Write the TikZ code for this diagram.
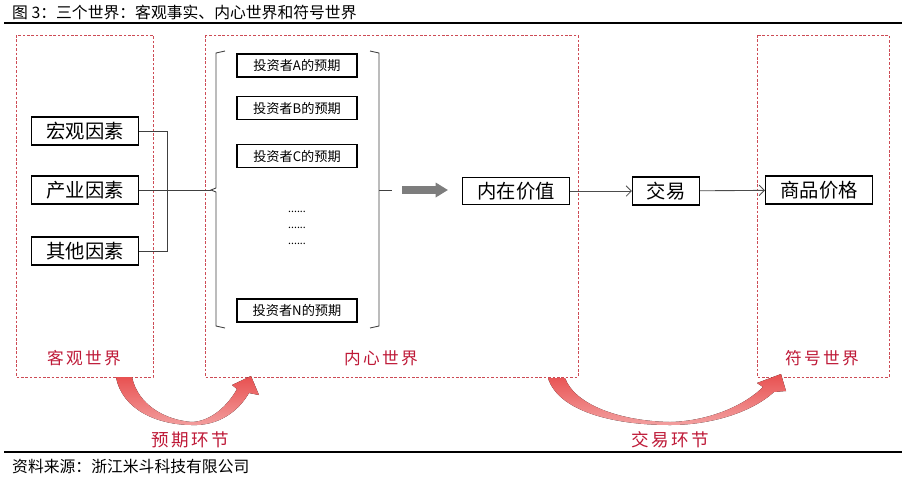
\documentclass[tikz,border=0pt]{standalone}
\usepackage{fontspec}
\setmainfont{Noto Sans CJK SC}
\newfontfamily\lblfont[LetterSpace=14]{Noto Sans CJK SC}
\usetikzlibrary{arrows.meta}

\definecolor{framered}{RGB}{205,75,85}
\definecolor{lblred}{RGB}{190,25,55}
\definecolor{arrowred}{RGB}{232,80,80}
\definecolor{bigarrow}{RGB}{125,125,125}

\begin{document}
\begin{tikzpicture}[x=0.02cm, y=-0.02cm,
    box/.style={draw, line width=0.6pt, minimum width=2.14cm, minimum height=0.56cm, inner sep=0pt, font=\fontsize{11}{13}\selectfont},
    invbox/.style={draw, line width=0.6pt, minimum width=2.4cm, minimum height=0.46cm, inner sep=0pt, font=\fontsize{7.5}{9}\selectfont},
    frame/.style={draw=framered, line width=0.5pt, dash pattern=on 1.5pt off 1pt},
    worldlbl/.style={text=lblred, font=\lblfont\fontsize{9.5}{11}\selectfont},
    conn/.style={draw=black!75, line width=0.5pt},
    link/.style={draw=black!70, line width=0.5pt, -{Straight Barb[length=3pt,width=6pt]}},
    redarrow/.style={top color=arrowred, bottom color=arrowred!55!white, draw=none}]
    \useasboundingbox (0,0) rectangle (906,478);

    % title and source
    \node[anchor=west, font=\fontsize{9}{11}\selectfont] (title) at (6,12) {图 3：三个世界：客观事实、内心世界和符号世界};
    \draw[line width=0.8pt] (4,23) -- (902,23);
    \draw[line width=0.8pt] (4,452) -- (902,452);
    \node[anchor=west, font=\fontsize{9}{11}\selectfont] (src) at (6,466) {资料来源：浙江米斗科技有限公司};

    % the three worlds
    \draw[frame] (16,35) rectangle (153,377);
    \draw[frame] (205,35) rectangle (578,377);
    \draw[frame] (757,35) rectangle (889,377);
    \node[worldlbl] (kgsj) at (84,358) {客观世界};
    \node[worldlbl] (nxsj) at (381,358) {内心世界};
    \node[worldlbl] (fhsj) at (822,358) {符号世界};

    % objective factors
    \node[box] (hgys) at (85,131) {宏观因素};
    \node[box] (cyys) at (85,190) {产业因素};
    \node[box] (qtys) at (85,251) {其他因素};
    \coordinate (jn) at (167,190);
    \coordinate (brkL) at (211,190);
    \draw[conn] (hgys.east) -| (jn);
    \draw[conn] (qtys.east) -| (jn);
    \draw[conn] (cyys.east) -- (brkL);

    % expectations of investors
    \node[invbox] (tzA) at (297,65.5) {投资者A的预期};
    \node[invbox] (tzB) at (297,108) {投资者B的预期};
    \node[invbox] (tzC) at (297,156) {投资者C的预期};
    \node[invbox] (tzN) at (297,310.5) {投资者N的预期};
    \node[font=\fontsize{6}{6}\selectfont, inner sep=0pt] (dots1) at (297,212) {......};
    \node[font=\fontsize{6}{6}\selectfont, inner sep=0pt] (dots2) at (297,228) {......};
    \node[font=\fontsize{6}{6}\selectfont, inner sep=0pt] (dots3) at (297,244) {......};

    % brackets
    \draw[conn] (225,51) -- (216,53) -- (216,188) -- (brkL) -- (216,192) -- (216,326) -- (225,328);
    \coordinate (brkR) at (379,190);
    \coordinate (tickR) at (392,190);
    \draw[conn] (370,51) -- (379,53) -- (brkR) -- (379,326) -- (370,328);
    \draw[conn] (brkR) -- (tickR);

    % big gray arrow
    \coordinate (gA) at (402,190);
    \coordinate (gB) at (448,190);
    \draw[bigarrow, line width=4pt, -{Triangle[length=7pt,width=8pt]}] (gA) -- (gB);

    % value -> trade -> price
    \node[box, minimum width=2.14cm, minimum height=0.54cm] (nzjz) at (516,191) {内在价值};
    \node[box, minimum width=1.34cm] (jy) at (666,191) {交易};
    \node[box] (spjg) at (819,190) {商品价格};
    \draw[link] (nzjz) -- (jy);
    \draw[link] (jy) -- (spjg);

    % red curved arrows
    \fill[redarrow] (132,377) .. controls (138,405) and (165,420) .. (192,422)
        .. controls (212,421) and (228,405) .. (237,389) -- (232,385) -- (251,376)
        -- (259,395) -- (249,393) .. controls (238,412) and (218,426) .. (192,425)
        .. controls (158,425) and (122,410) .. (116,377) -- cycle;
    \node[worldlbl, font=\lblfont\fontsize{10}{12}\selectfont] (yqhj) at (190,440) {预期环节};

    \fill[redarrow] (565,378) .. controls (575,405) and (620,421) .. (670,422)
        .. controls (710,421) and (745,405) .. (763,387) -- (757,383) -- (781,374)
        -- (786,391) -- (774,392) .. controls (752,412) and (712,425) .. (670,425)
        .. controls (610,425) and (558,410) .. (548,378) -- cycle;
    \node[worldlbl, font=\lblfont\fontsize{10}{12}\selectfont] (jyhj) at (670,440) {交易环节};
\end{tikzpicture}
\end{document}
